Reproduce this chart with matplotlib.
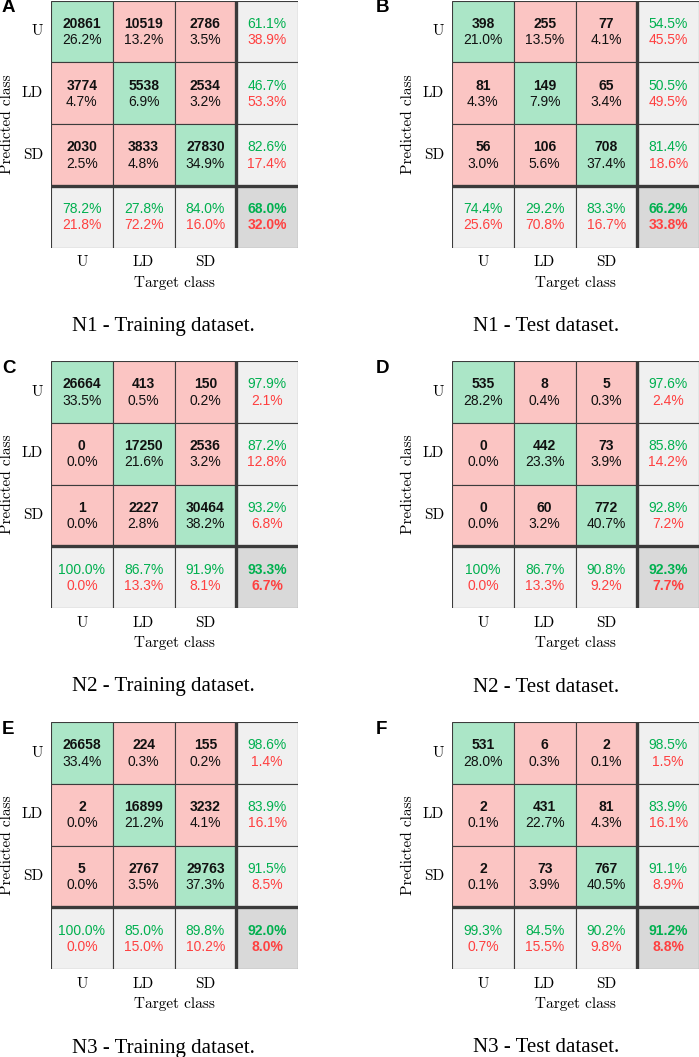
import matplotlib.pyplot as plt
from matplotlib.patches import Rectangle

# Class names shown on both axes.
classes = ["U", "LD", "SD"]

# Confusion matrix counts (rows = predicted, columns = target).
n1_train_counts = [[20861, 10519, 2786], [3774, 5538, 2534], [2030, 3833, 27830]]
n1_test_counts = [[398, 255, 77], [81, 149, 65], [56, 106, 708]]
n2_train_counts = [[26664, 413, 150], [0, 17250, 2536], [1, 2227, 30464]]
n2_test_counts = [[535, 8, 5], [0, 442, 73], [0, 60, 772]]
n3_train_counts = [[26658, 224, 155], [2, 16899, 3232], [5, 2767, 29763]]
n3_test_counts = [[531, 6, 2], [2, 431, 81], [2, 73, 767]]

# Cell percentages as printed.
n1_train_pct = [["26.2%", "13.2%", "3.5%"], ["4.7%", "6.9%", "3.2%"], ["2.5%", "4.8%", "34.9%"]]
n1_test_pct = [["21.0%", "13.5%", "4.1%"], ["4.3%", "7.9%", "3.4%"], ["3.0%", "5.6%", "37.4%"]]
n2_train_pct = [["33.5%", "0.5%", "0.2%"], ["0.0%", "21.6%", "3.2%"], ["0.0%", "2.8%", "38.2%"]]
n2_test_pct = [["28.2%", "0.4%", "0.3%"], ["0.0%", "23.3%", "3.9%"], ["0.0%", "3.2%", "40.7%"]]
n3_train_pct = [["33.4%", "0.3%", "0.2%"], ["0.0%", "21.2%", "4.1%"], ["0.0%", "3.5%", "37.3%"]]
n3_test_pct = [["28.0%", "0.3%", "0.1%"], ["0.1%", "22.7%", "4.3%"], ["0.1%", "3.9%", "40.5%"]]

# Row summaries (precision / error) for each predicted class.
n1_train_rows = [("61.1%", "38.9%"), ("46.7%", "53.3%"), ("82.6%", "17.4%")]
n1_test_rows = [("54.5%", "45.5%"), ("50.5%", "49.5%"), ("81.4%", "18.6%")]
n2_train_rows = [("97.9%", "2.1%"), ("87.2%", "12.8%"), ("93.2%", "6.8%")]
n2_test_rows = [("97.6%", "2.4%"), ("85.8%", "14.2%"), ("92.8%", "7.2%")]
n3_train_rows = [("98.6%", "1.4%"), ("83.9%", "16.1%"), ("91.5%", "8.5%")]
n3_test_rows = [("98.5%", "1.5%"), ("83.9%", "16.1%"), ("91.1%", "8.9%")]

# Column summaries (recall / error) for each target class.
n1_train_cols = [("78.2%", "21.8%"), ("27.8%", "72.2%"), ("84.0%", "16.0%")]
n1_test_cols = [("74.4%", "25.6%"), ("29.2%", "70.8%"), ("83.3%", "16.7%")]
n2_train_cols = [("100.0%", "0.0%"), ("86.7%", "13.3%"), ("91.9%", "8.1%")]
n2_test_cols = [("100%", "0.0%"), ("86.7%", "13.3%"), ("90.8%", "9.2%")]
n3_train_cols = [("100.0%", "0.0%"), ("85.0%", "15.0%"), ("89.8%", "10.2%")]
n3_test_cols = [("99.3%", "0.7%"), ("84.5%", "15.5%"), ("90.2%", "9.8%")]

# Overall accuracy / error.
n1_train_total = ("68.0%", "32.0%")
n1_test_total = ("66.2%", "33.8%")
n2_train_total = ("93.3%", "6.7%")
n2_test_total = ("92.3%", "7.7%")
n3_train_total = ("92.0%", "8.0%")
n3_test_total = ("91.2%", "8.8%")

letters = ["A", "B", "C", "D", "E", "F"]
captions = ["N1 - Training dataset.", "N1 - Test dataset.",
            "N2 - Training dataset.", "N2 - Test dataset.",
            "N3 - Training dataset.", "N3 - Test dataset."]

panels = [
    (n1_train_counts, n1_train_pct, n1_train_rows, n1_train_cols, n1_train_total),
    (n1_test_counts, n1_test_pct, n1_test_rows, n1_test_cols, n1_test_total),
    (n2_train_counts, n2_train_pct, n2_train_rows, n2_train_cols, n2_train_total),
    (n2_test_counts, n2_test_pct, n2_test_rows, n2_test_cols, n2_test_total),
    (n3_train_counts, n3_train_pct, n3_train_rows, n3_train_cols, n3_train_total),
    (n3_test_counts, n3_test_pct, n3_test_rows, n3_test_cols, n3_test_total),
]

# Colours.
good_bg = "#abe6c7"
bad_bg = "#fbc5c3"
sum_bg = "#f0f0f0"
total_bg = "#d9d9d9"
green_txt = "#00b04f"
red_txt = "#ff4040"
line_col = "#3c3c3c"

W, H = 699, 1057
fig = plt.figure(figsize=(W / 100, H / 100), dpi=100)

grid_px = 247
lefts = [51, 452]
tops = [0.5, 361, 722]

sans = "Liberation Sans"
cm = "cmr10"
px = 1 / grid_px
fs_cell = 10
fs_lab = 11

for k, (counts, pct, rows, cols, total) in enumerate(panels):
    left = lefts[k % 2]
    top = tops[k // 2]
    ax = fig.add_axes([left / W, 1 - (top + grid_px) / H, grid_px / W, grid_px / H])
    ax.set_xlim(0, 4)
    ax.set_ylim(4, 0)
    ax.axis("off")

    # Main 3x3 cells.
    for i in range(3):
        for j in range(3):
            bg = good_bg if i == j else bad_bg
            ax.add_patch(Rectangle((j, i), 1, 1, facecolor=bg, edgecolor=line_col, lw=0.8))
            ax.text(j + 0.5, i + 0.38, str(counts[i][j]), ha="center", va="center",
                    fontsize=fs_cell, fontweight="bold", family=sans, color="#111111")
            ax.text(j + 0.5, i + 0.64, pct[i][j], ha="center", va="center",
                    fontsize=fs_cell, family=sans, color="#111111")

    # Row summaries (right column).
    for i in range(3):
        ax.add_patch(Rectangle((3, i), 1, 1, facecolor=sum_bg, edgecolor=line_col, lw=0.8))
        ax.text(3.5, i + 0.38, rows[i][0], ha="center", va="center",
                fontsize=fs_cell, family=sans, color=green_txt)
        ax.text(3.5, i + 0.64, rows[i][1], ha="center", va="center",
                fontsize=fs_cell, family=sans, color=red_txt)

    # Column summaries (bottom row).
    for j in range(3):
        ax.add_patch(Rectangle((j, 3), 1, 1, facecolor=sum_bg, edgecolor=line_col, lw=0.8))
        ax.text(j + 0.5, 3.38, cols[j][0], ha="center", va="center",
                fontsize=fs_cell, family=sans, color=green_txt)
        ax.text(j + 0.5, 3.64, cols[j][1], ha="center", va="center",
                fontsize=fs_cell, family=sans, color=red_txt)

    # Overall accuracy.
    ax.add_patch(Rectangle((3, 3), 1, 1, facecolor=total_bg, edgecolor=line_col, lw=0.8))
    ax.text(3.5, 3.38, total[0], ha="center", va="center",
            fontsize=fs_cell, fontweight="bold", family=sans, color=green_txt)
    ax.text(3.5, 3.64, total[1], ha="center", va="center",
            fontsize=fs_cell, fontweight="bold", family=sans, color=red_txt)

    # Thick separators.
    ax.plot([3, 3], [0, 4], color="#3a3a3a", lw=2.4, solid_capstyle="butt")
    ax.plot([0, 4], [3, 3], color="#3a3a3a", lw=2.4, solid_capstyle="butt")

    # Axis labels.
    for i, name in enumerate(classes):
        ax.text(-8 * px, 1 - (i + 0.5) / 4, name, transform=ax.transAxes,
                ha="right", va="center", fontsize=fs_lab, family=cm)
        ax.text((i + 0.5) / 4, -15 * px, name, transform=ax.transAxes,
                ha="center", va="center", fontsize=fs_lab, family=cm)
    ax.text(-44 * px, 0.5, "Predicted class", transform=ax.transAxes, rotation=90,
            ha="center", va="center", fontsize=fs_lab, family=cm)
    ax.text(0.5, -35 * px, "Target class", transform=ax.transAxes,
            ha="center", va="center", fontsize=fs_lab, family=cm)

    # Sub-figure caption.
    ax.text(21 * px, -79 * px, captions[k], transform=ax.transAxes,
            ha="left", va="center", fontsize=15, family="Liberation Serif")

# Panel letters placed in figure pixels.
letter_x = [2, 376]
for k, letter in enumerate(letters):
    fig.text(letter_x[k % 2] / W, 1 - (tops[k // 2] - 1) / H, letter, ha="left", va="top",
             fontsize=13.5, fontweight="bold", family=sans)

fig.savefig("out.png", dpi=100)
